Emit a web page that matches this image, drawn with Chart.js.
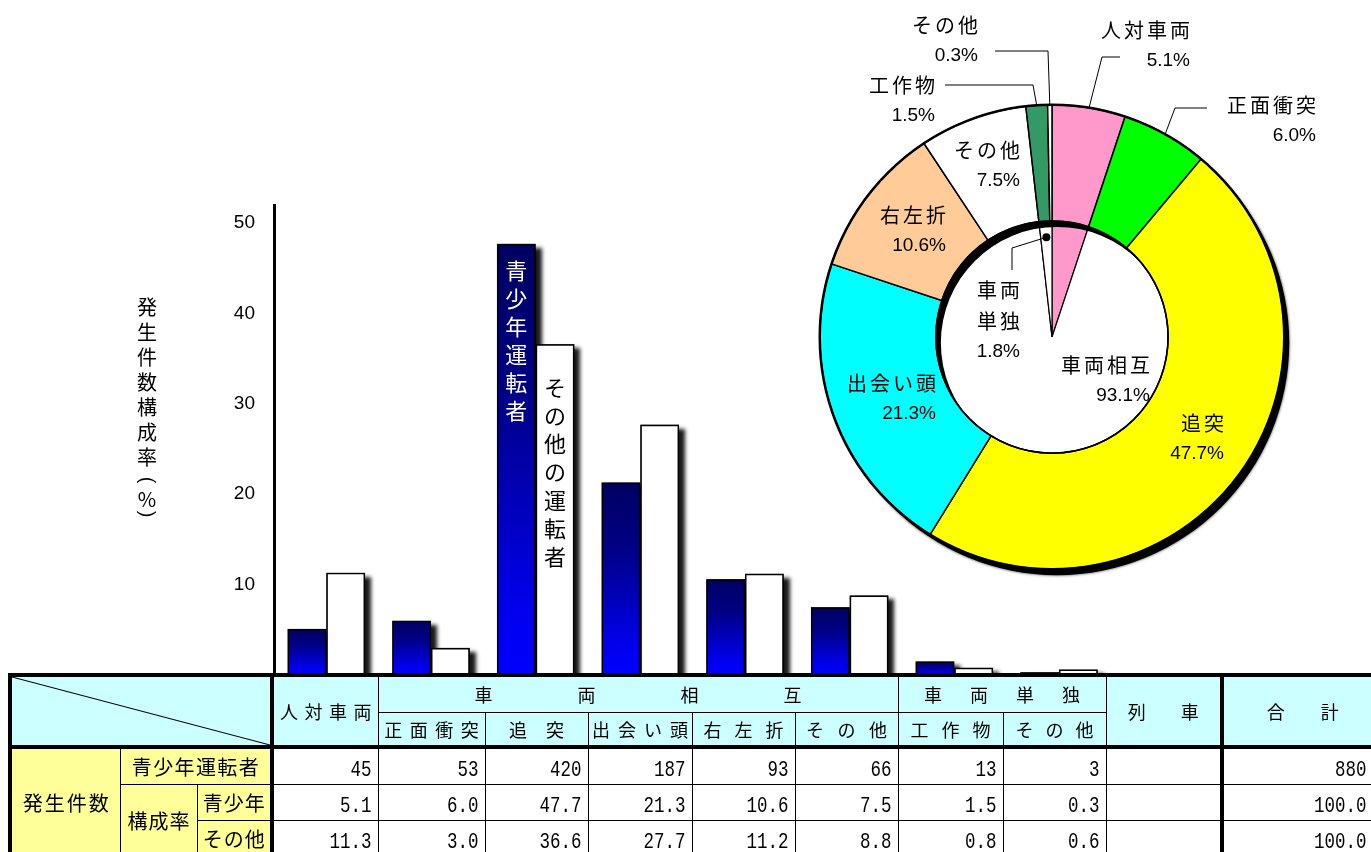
<!DOCTYPE html>
<html lang="ja">
<head>
<meta charset="utf-8">
<script src="https://cdn.jsdelivr.net/npm/chart.js@4.4.1/dist/chart.umd.min.js"></script>
<style>
html, body { margin:0; padding:0; background:#fff; width:1371px; height:852px; overflow:hidden; }
#wrap { position:relative; width:1371px; height:852px; overflow:hidden; }
#barChart { position:absolute; left:0; top:0; }
#pieChart { position:absolute; left:700px; top:0; }
#tbl { position:absolute; left:8px; top:673px; width:1372px; border-collapse:collapse; table-layout:fixed;
       font-family:'Noto Sans CJK JP', sans-serif; color:#000; }
#tbl td { border:1.5px solid #000; padding:0; white-space:nowrap; overflow:hidden; font-size:18px; text-align:center; }
#tbl td.hd { background:#ccffff; }
#tbl td.lab { background:#ffff99; font-size:20px; }
#tbl td.val { text-align:right; padding-right:6px; background:#fff; }
#tbl td.tR { border-right:4px solid #000; }
#tbl td.tL { border-left:4px solid #000; }
#tbl td.tT { border-top:4px solid #000; }
#tbl td.diag { background:linear-gradient(to top right, #ccffff calc(50% - 1px), #000 50%, #ccffff calc(50% + 1px)); }
.num { display:inline-block; font-family:'Liberation Mono', 'DejaVu Sans Mono', monospace; font-size:17.5px; transform:scaleY(1.3); }
</style>
</head>
<body>
<div id="wrap">
  <canvas id="barChart" width="1371" height="678"></canvas>
  <canvas id="pieChart" width="671" height="620"></canvas>
  <table id="tbl"></table>
</div>
<script>
// categories (table columns / bar groups)
const categories = ['人対車両', '正面衝突', '追突', '出会い頭', '右左折', 'その他', '工作物', 'その他', '列車'];
const groupHeads = ['車両相互', '車両単独'];
const groupSpans = [5, 2];
const totalHead = '合計';
const seriesNames = ['青少年運転者', 'その他の運転者'];
const rowHeads = ['発生件数', '青少年運転者', '構成率', '青少年', 'その他'];

// values
const youthCount = [45, 53, 420, 187, 93, 66, 13, 3, null];
const youthCountTotal = 880;
const youthRate = [5.1, 6.0, 47.7, 21.3, 10.6, 7.5, 1.5, 0.3, null];
const otherRate = [11.3, 3.0, 36.6, 27.7, 11.2, 8.8, 0.8, 0.6, null];
const rateTotal = [100.0, 100.0];

const yTicks = [10, 20, 30, 40, 50];
const yTitle = '発生件数構成率（%）';

// doughnut (youth drivers)
const ringLabels = ['人対車両', '正面衝突', '追突', '出会い頭', '右左折', 'その他', '工作物', 'その他'];
const ringValues = [5.1, 6.0, 47.7, 21.3, 10.6, 7.5, 1.5, 0.3];
const pieLabels = ['人対車両', '車両相互', '車両単独'];
const pieValues = [5.1, 93.1, 1.8];

// ---------- styles ----------
const ringColors = ['#ff99cc', '#00ff00', '#ffff00', '#00ffff', '#ffcc99', '#ffffff', '#339966', '#ffffff'];
const pieColors = ['#ff99cc', '#ffffff', '#ffffff'];
const jpFont = "'Noto Sans CJK JP', sans-serif";
const numFont = "'Liberation Sans', Arial, sans-serif";
const BASE_Y = 675;

// label placement relative to doughnut centre (right edge, first line centre)
const ringStyle = [
  {dx: 138, dy: -307, lead: [[68, -280], [50, -280]]},
  {dx: 264, dy: -232, lead: [[155, -229], [123, -229]]},
  {dx: 172, dy: 86},
  {dx: -116, dy: 46},
  {dx: -106, dy: -122},
  {dx: -32, dy: -187},
  {dx: -117, dy: -252, lead: [[-107, -252], [-19, -252]]},
  {dx: -74, dy: -312, lead: [[-57, -286], [-4, -286]]}
];
const pieStyle = [
  null,
  {dx: 98, dy: 28},
  {dx: -32, dy: -47, wrap: 2, dot: 0.86, lead: [[-40, -89], [-40, -67]]}
];

// ---------- bar chart ----------
function blueFill(c) {
  const chart = c.chart;
  if (!chart.chartArea || c.raw == null) return '#0000ff';
  const y = chart.scales.y;
  const top = y.getPixelForValue(c.raw);
  const bottom = y.getPixelForValue(0);
  const g = chart.ctx.createLinearGradient(0, top, 0, bottom);
  g.addColorStop(0, '#000060');
  g.addColorStop(0.35, '#000088');
  g.addColorStop(0.85, '#0000ee');
  g.addColorStop(1, '#0000ff');
  return g;
}

const barShadow = {
  id: 'barShadow',
  beforeDatasetsDraw(chart) {
    const ctx = chart.ctx;
    chart.data.datasets.forEach((ds, i) => {
      chart.getDatasetMeta(i).data.forEach((el, j) => {
        if (ds.data[j] == null) return;
        const p = el.getProps(['x', 'y', 'base', 'width'], true);
        ctx.save();
        ctx.shadowColor = 'rgba(0,0,0,0.9)';
        ctx.shadowBlur = 4;
        ctx.shadowOffsetX = 6;
        ctx.shadowOffsetY = 4;
        ctx.fillStyle = '#000';
        ctx.fillRect(p.x - p.width / 2, p.y, p.width, p.base - p.y);
        ctx.restore();
      });
    });
  }
};

function drawVertical(ctx, text, x, y, step) {
  for (const ch of text) {
    ctx.fillText(ch, x, y);
    y += step;
  }
}

const barText = {
  id: 'barText',
  afterDatasetsDraw(chart) {
    const ctx = chart.ctx;
    const vals = youthRate.filter(v => v != null);
    const idx = youthRate.indexOf(Math.max(...vals));
    ctx.save();
    ctx.textAlign = 'center';
    ctx.textBaseline = 'middle';
    ctx.font = '22px ' + jpFont;
    const b0 = chart.getDatasetMeta(0).data[idx];
    ctx.fillStyle = '#fff';
    drawVertical(ctx, seriesNames[0], b0.x, b0.y + 27, 28);
    const b1 = chart.getDatasetMeta(1).data[idx];
    ctx.fillStyle = '#000';
    drawVertical(ctx, seriesNames[1], b1.x, b1.y + 43, 28.3);
    ctx.restore();
  },
  afterDraw(chart) {
    // vertical y axis title
    const ctx = chart.ctx;
    ctx.save();
    ctx.fillStyle = '#000';
    ctx.textAlign = 'center';
    ctx.textBaseline = 'middle';
    ctx.font = '20px ' + jpFont;
    let y = 307;
    const x = 147;
    for (const ch of yTitle) {
      if (ch === '（' || ch === '）') {
        ctx.save();
        ctx.translate(x, y - 2);
        ctx.rotate(Math.PI / 2);
        ctx.font = '20px ' + numFont;
        ctx.fillText(ch === '（' ? '(' : ')', 0, 0);
        ctx.restore();
        y += 17;
      } else {
        ctx.fillText(ch, x, y);
        y += ch === '%' ? 17 : 25;
      }
    }
    ctx.restore();
  }
};

const barChart = new Chart(document.getElementById('barChart'), {
  type: 'bar',
  data: {
    labels: categories,
    datasets: [
      {label: seriesNames[0], data: youthRate, backgroundColor: blueFill, borderColor: '#000',
       borderWidth: 1.5, borderSkipped: false, categoryPercentage: 0.74, barPercentage: 1.0},
      {label: seriesNames[1], data: otherRate, backgroundColor: '#ffffff', borderColor: '#000',
       borderWidth: 1.5, borderSkipped: false, categoryPercentage: 0.74, barPercentage: 1.0}
    ]
  },
  options: {
    responsive: false,
    animation: false,
    layout: {padding: {left: 174, right: 155, top: 205, bottom: 3}},
    plugins: {legend: {display: false}, tooltip: {enabled: false}},
    scales: {
      x: {display: false},
      y: {
        min: 0, max: 52,
        afterFit: s => { s.width = 100; s.paddingTop = 0; s.paddingBottom = 0; },
        afterBuildTicks: s => { s.ticks = yTicks.map(v => ({value: v})); },
        grid: {display: false, drawTicks: false},
        border: {display: true, width: 3, color: '#000'},
        ticks: {padding: 19, color: '#000', font: {family: numFont, size: 19}}
      }
    }
  },
  plugins: [barShadow, barText]
});
// keep the zero line on the table's top edge
const gap = BASE_Y - barChart.chartArea.bottom;
if (Math.abs(gap) > 0.5) {
  barChart.options.layout.padding.bottom -= gap;
  barChart.update();
}

// ---------- doughnut ----------
const ringDeco = {
  id: 'ringDeco',
  beforeDatasetsDraw(chart) {
    const a = chart.getDatasetMeta(0).data[0];
    const ctx = chart.ctx;
    ctx.save();
    ctx.shadowColor = 'rgba(0,0,0,0.8)';
    ctx.shadowBlur = 3;
    ctx.fillStyle = '#000';
    ctx.beginPath();
    ctx.arc(a.x + 5, a.y + 6, a.outerRadius, 0, Math.PI * 2);
    ctx.fill();
    ctx.restore();
  },
  afterDatasetsDraw(chart) {
    const a = chart.getDatasetMeta(0).data[0];
    const ctx = chart.ctx;
    const cx = a.x, cy = a.y, R = a.outerRadius, r = a.innerRadius;
    ctx.save();
    // ring shadow falling into the hole
    ctx.beginPath();
    ctx.arc(cx, cy, r, 0, Math.PI * 2);
    ctx.clip();
    ctx.beginPath();
    ctx.rect(cx - r - 20, cy - r - 20, 2 * r + 40, 2 * r + 40);
    ctx.arc(cx + 5, cy + 6, r, 0, Math.PI * 2);
    ctx.fillStyle = '#000';
    ctx.fill('evenodd');
    ctx.restore();
    ctx.save();
    ctx.strokeStyle = '#000';
    ctx.lineWidth = 1.5;
    ctx.beginPath();
    ctx.arc(cx, cy, r, 0, Math.PI * 2);
    ctx.stroke();
    ctx.lineWidth = 2.5;
    ctx.beginPath();
    ctx.arc(cx, cy, R, 0, Math.PI * 2);
    ctx.stroke();
    ctx.restore();
  },
  afterDraw(chart) {
    const ctx = chart.ctx;
    const a0 = chart.getDatasetMeta(0).data[0];
    const cx = a0.x, cy = a0.y;
    function label(arc, name, value, st, edgeR) {
      if (!st) return;
      const mid = (arc.startAngle + arc.endAngle) / 2;
      ctx.strokeStyle = '#000';
      ctx.lineWidth = 1;
      if (st.lead) {
        const ex = cx + edgeR * Math.cos(mid), ey = cy + edgeR * Math.sin(mid);
        if (st.dot) {
          ctx.fillStyle = '#000';
          ctx.beginPath();
          ctx.arc(ex, ey, 4, 0, Math.PI * 2);
          ctx.fill();
        }
        ctx.beginPath();
        if (st.dot) {
          ctx.moveTo(ex, ey);
          st.lead.forEach(p => ctx.lineTo(cx + p[0], cy + p[1]));
        } else {
          ctx.moveTo(cx + st.lead[0][0], cy + st.lead[0][1]);
          st.lead.slice(1).forEach(p => ctx.lineTo(cx + p[0], cy + p[1]));
          ctx.lineTo(ex, ey);
        }
        ctx.stroke();
      }
      const lines = [];
      if (st.wrap) {
        for (let i = 0; i < name.length; i += st.wrap) lines.push(name.slice(i, i + st.wrap));
      } else lines.push(name);
      ctx.fillStyle = '#000';
      ctx.textAlign = 'right';
      ctx.textBaseline = 'middle';
      let y = cy + st.dy;
      lines.forEach(t => {
        ctx.font = '20px ' + jpFont;
        ctx.letterSpacing = '3px';
        ctx.fillText(t, cx + st.dx + 3, y);
        y += 31;
      });
      ctx.letterSpacing = '0px';
      ctx.font = '19px ' + numFont;
      ctx.fillText(value.toFixed(1) + '%', cx + st.dx, y);
    }
    ctx.save();
    chart.getDatasetMeta(0).data.forEach((arc, i) => label(arc, ringLabels[i], ringValues[i], ringStyle[i], arc.outerRadius));
    chart.getDatasetMeta(1).data.forEach((arc, i) => {
      const st = pieStyle[i];
      label(arc, pieLabels[i], pieValues[i], st, st && st.dot ? arc.outerRadius * st.dot : arc.outerRadius);
    });
    ctx.restore();
  }
};

new Chart(document.getElementById('pieChart'), {
  type: 'doughnut',
  data: {
    labels: ringLabels,
    datasets: [
      {data: ringValues, backgroundColor: ringColors, borderColor: '#000', borderWidth: 1.5, weight: 1},
      {data: pieValues, backgroundColor: pieColors, borderColor: '#000', borderWidth: 1.2, weight: 1}
    ]
  },
  options: {
    responsive: false,
    animation: false,
    cutout: 0,
    layout: {padding: {left: 119, right: 86, top: 104, bottom: 50}},
    plugins: {legend: {display: false}, tooltip: {enabled: false}}
  },
  plugins: [ringDeco]
});

// ---------- table ----------
const colWidths = [110, 77, 75, 106, 107, 103, 104, 103, 103, 105, 103, 116, 160];
const headSpace = [6.5, 7.5, 19, 8, 13, 13.5, 13, 12, 35];
const groupSpace = [85, 28];
const totalSpace = 36;
const labSpace = [2, 1.4, 1, 1, 1];

function spaced(t, s) {
  return `<span style="letter-spacing:${s}px;margin-right:-${s}px">${t}</span>`;
}
function num(v, dec) {
  return v == null ? '' : `<span class="num">${dec ? v.toFixed(1) : v}</span>`;
}
function valCells(arr, dec, cls) {
  return arr.map(v => `<td class="val ${cls || ''}">${num(v, dec)}</td>`).join('');
}

let html = '<colgroup>' + colWidths.map(w => `<col style="width:${w}px">`).join('') + '</colgroup>';
html += '<tr style="height:37px">';
html += '<td colspan="3" rowspan="2" class="diag tT tL tR"></td>';
html += `<td rowspan="2" class="hd tT">${spaced(categories[0], headSpace[0])}</td>`;
groupHeads.forEach((g, i) => {
  html += `<td colspan="${groupSpans[i]}" class="hd tT">${spaced(g, groupSpace[i])}</td>`;
});
html += `<td rowspan="2" class="hd tT">${spaced(categories[8], headSpace[8])}</td>`;
html += `<td rowspan="2" class="hd tT tL">${spaced(totalHead, totalSpace)}</td>`;
html += '</tr><tr style="height:35px">';
for (let i = 1; i <= 7; i++) html += `<td class="hd">${spaced(categories[i], headSpace[i])}</td>`;
html += '</tr>';

html += '<tr style="height:37px">';
html += `<td rowspan="3" class="lab tT tL">${spaced(rowHeads[0], labSpace[0])}</td>`;
html += `<td colspan="2" class="lab tT tR">${spaced(rowHeads[1], labSpace[1])}</td>`;
html += valCells(youthCount, false, 'tT');
html += `<td class="val tT tL" style="padding-right:15px">${num(youthCountTotal, false)}</td></tr>`;

html += '<tr style="height:36px">';
html += `<td rowspan="2" class="lab">${spaced(rowHeads[2], labSpace[2])}</td>`;
html += `<td class="lab tR">${spaced(rowHeads[3], labSpace[3])}</td>`;
html += valCells(youthRate, true);
html += `<td class="val tL" style="padding-right:15px">${num(rateTotal[0], true)}</td></tr>`;

html += '<tr style="height:36px">';
html += `<td class="lab tR">${spaced(rowHeads[4], labSpace[4])}</td>`;
html += valCells(otherRate, true);
html += `<td class="val tL" style="padding-right:15px">${num(rateTotal[1], true)}</td></tr>`;

document.getElementById('tbl').innerHTML = html;
</script>
</body>
</html>
